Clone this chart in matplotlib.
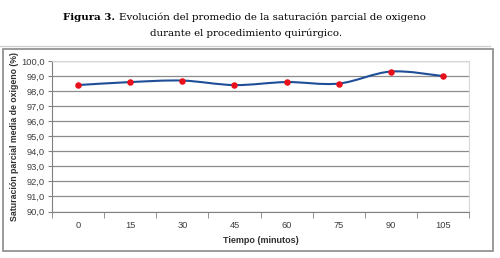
import matplotlib.pyplot as plt
from matplotlib.path import Path
from matplotlib.patches import PathPatch, Rectangle
from matplotlib.ticker import FuncFormatter
from matplotlib.lines import Line2D

# data
tiempo = ["0", "15", "30", "45", "60", "75", "90", "105"]
saturacion = [98.4, 98.6, 98.7, 98.4, 98.6, 98.5, 99.3, 99.0]
yticks = [90, 91, 92, 93, 94, 95, 96, 97, 98, 99, 100]

W, H = 500, 258
fig = plt.figure(figsize=(W / 100, H / 100), dpi=100)
fig.patch.set_facecolor("white")

ax = fig.add_axes([52 / W, 1 - 211.5 / H, 417 / W, 150.5 / H])

# title (serif, first part bold)
t1 = fig.text(63 / W, 1 - 17 / H, "Figura 3.", family="DejaVu Serif", weight="bold",
              fontsize=7.4, ha="left", va="center")
ax.annotate("Evolución del promedio de la saturación parcial de oxigeno",
            xy=(1, 0.5), xycoords=t1, xytext=(2.5, 0), textcoords="offset points",
            family="DejaVu Serif", fontsize=7.4, ha="left", va="center",
            annotation_clip=False)
fig.text(246 / W, 1 - 33 / H, "durante el procedimiento quirúrgico.",
         family="DejaVu Serif", fontsize=7.4, ha="center", va="center")

# light rule above the chart and the chart frame
fig.add_artist(Line2D([0, 490 / W], [1 - 46 / H] * 2, color="#d0d0d0", lw=1))
fig.add_artist(Rectangle((2.5 / W, 1 - 250.5 / H), 490 / W, 202 / H, fill=False,
                         edgecolor="#8a8a8a", lw=1.2))

x = list(range(len(tiempo)))
ax.set_xlim(-0.5, len(tiempo) - 0.5)
ax.set_ylim(90, 100)

ax.set_yticks(yticks)
ax.yaxis.set_major_formatter(FuncFormatter(lambda v, p: f"{v:.1f}".replace(".", ",")))
ax.grid(axis="y", color="#8c8c8c", lw=0.9)
ax.set_axisbelow(True)

ax.set_xticks(x)
ax.set_xticklabels(tiempo)
ax.set_xticks([i - 0.5 for i in range(len(tiempo) + 1)], minor=True)
ax.tick_params(axis="x", which="major", length=0, pad=7)
ax.tick_params(axis="x", which="minor", length=4, color="#808080", direction="out")
ax.tick_params(axis="y", length=3, color="#808080", pad=2)
ax.tick_params(labelsize=6.7, labelcolor="#404040")
for lab in ax.get_xticklabels() + ax.get_yticklabels():
    lab.set_family("Liberation Sans")

for s in ["top", "right"]:
    ax.spines[s].set_color("#d8d8d8")
for s in ["left", "bottom"]:
    ax.spines[s].set_color("#808080")

# smoothed line (Bezier segments through the data points)
verts = [(x[0], saturacion[0])]
codes = [Path.MOVETO]
n = len(x)
for i in range(n - 1):
    p0 = (x[max(i - 1, 0)], saturacion[max(i - 1, 0)])
    p1 = (x[i], saturacion[i])
    p2 = (x[i + 1], saturacion[i + 1])
    p3 = (x[min(i + 2, n - 1)], saturacion[min(i + 2, n - 1)])
    c1 = (p1[0] + (p2[0] - p0[0]) / 6, p1[1] + (p2[1] - p0[1]) / 6)
    c2 = (p2[0] - (p3[0] - p1[0]) / 6, p2[1] - (p3[1] - p1[1]) / 6)
    verts += [c1, c2, p2]
    codes += [Path.CURVE4] * 3
ax.add_patch(PathPatch(Path(verts, codes), fill=False, edgecolor="#1f4e99", lw=1.5, zorder=3))
ax.scatter(x, saturacion, s=22, color="#e8101a", zorder=4, linewidths=0)

ax.set_xlabel("Tiempo (minutos)", family="Liberation Sans", weight="bold",
              fontsize=6.5, color="#303030", labelpad=4)
ax.set_ylabel("Saturación parcial media de oxigeno (%)", family="Liberation Sans",
              weight="bold", fontsize=6.3, color="#303030")
ax.yaxis.set_label_coords(-0.078, 0.5)

fig.savefig("out.png", dpi=100)
